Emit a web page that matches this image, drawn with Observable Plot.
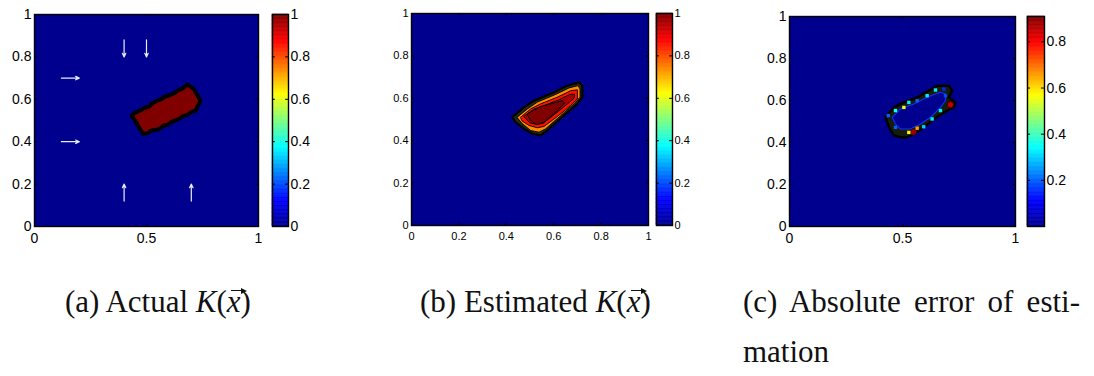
<!DOCTYPE html>
<html>
<head>
<meta charset="utf-8">
<script src="https://cdn.jsdelivr.net/npm/d3@7"></script>
<script src="https://cdn.jsdelivr.net/npm/@observablehq/plot@0.6"></script>
<style>
  html, body { margin: 0; padding: 0; background: #fff; }
  #root { position: relative; width: 1094px; height: 376px; overflow: hidden; background: #fff; }
  .pane { position: absolute; }
  .pane svg { overflow: visible; }
  .cap { position: absolute; font-family: "Liberation Serif", "DejaVu Serif", serif; font-size: 31px; line-height: 31px; color: #111; white-space: nowrap; }
  .cap i { font-style: italic; }
  .vec { position: relative; display: inline-block; font-style: italic; }
  .vec::before { content: ""; position: absolute; left: 4px; top: 4px; width: 12px; border-top: 1.4px solid #111; }
  .vec::after { content: ""; position: absolute; left: 14px; top: 1.6px; width: 0; height: 0;
    border-left: 6px solid #111; border-top: 3px solid transparent; border-bottom: 3px solid transparent; }
  .just { text-align: justify; text-align-last: justify; width: 337px; }
</style>
</head>
<body>
<div id="root"></div>
<script>
// ---------- data ----------
const yTicks = [0, 0.2, 0.4, 0.6, 0.8, 1];
const xTicksCoarse = [0, 0.5, 1];
const xTicksFine = [0, 0.2, 0.4, 0.6, 0.8, 1];
const cbTicksFull = [0, 0.2, 0.4, 0.6, 0.8, 1];
const cbTicksErr = [0.2, 0.4, 0.6, 0.8];
const errMax = 0.91;

// jet colormap stops
const jetStops = [0, 0.125, 0.375, 0.625, 0.875, 1];
const jetColors = ["#00008f", "#0000ff", "#00ffff", "#ffff00", "#ff0000", "#800000"];

// (a) actual K: region of value 1 (polygon vertices, data units)
const actualRegion = [
  [0.433,0.524],[0.455,0.540],[0.470,0.545],[0.488,0.558],[0.510,0.565],[0.525,0.580],
  [0.548,0.594],[0.565,0.600],[0.580,0.612],[0.600,0.618],[0.622,0.628],[0.640,0.642],
  [0.660,0.650],[0.682,0.670],[0.711,0.649],[0.741,0.594],[0.719,0.547],[0.700,0.540],
  [0.685,0.527],[0.665,0.522],[0.652,0.512],[0.630,0.500],[0.610,0.493],[0.595,0.480],
  [0.575,0.475],[0.560,0.462],[0.540,0.455],[0.520,0.452],[0.505,0.440],[0.485,0.437],
  [0.470,0.460],[0.458,0.484],[0.445,0.505]
];
const actualValue = 1;
// flow arrows (x1,y1,x2,y2)
const flowArrows = [
  {x1:0.12,y1:0.70,x2:0.20,y2:0.70},
  {x1:0.12,y1:0.40,x2:0.20,y2:0.40},
  {x1:0.40,y1:0.88,x2:0.40,y2:0.80},
  {x1:0.50,y1:0.88,x2:0.50,y2:0.80},
  {x1:0.40,y1:0.12,x2:0.40,y2:0.20},
  {x1:0.70,y1:0.12,x2:0.70,y2:0.20}
];

// (b) estimated K: nested contour levels
const estOuter = [
  [0.425,0.511],[0.475,0.558],[0.517,0.589],[0.601,0.629],[0.658,0.660],[0.707,0.676],
  [0.721,0.660],[0.721,0.605],[0.700,0.574],[0.644,0.519],[0.573,0.448],[0.545,0.425],
  [0.510,0.433],[0.475,0.456],[0.439,0.487]
];
const estLevel75 = [
  [0.446,0.511],[0.489,0.550],[0.531,0.582],[0.608,0.618],[0.665,0.649],[0.703,0.660],
  [0.711,0.644],[0.711,0.605],[0.686,0.574],[0.630,0.519],[0.566,0.456],[0.538,0.440],
  [0.503,0.448],[0.468,0.480]
];
const estLevel85 = [
  [0.461,0.511],[0.503,0.550],[0.545,0.574],[0.615,0.605],[0.672,0.636],[0.700,0.640],
  [0.700,0.597],[0.672,0.566],[0.615,0.514],[0.559,0.467],[0.531,0.461],[0.496,0.472],
  [0.468,0.492]
];
const estLevel95 = [
  [0.475,0.515],[0.515,0.548],[0.560,0.566],[0.620,0.592],[0.668,0.618],[0.688,0.620],
  [0.686,0.600],[0.660,0.575],[0.605,0.525],[0.555,0.482],[0.530,0.476],[0.500,0.484]
];
const estLevel100 = [
  [0.489,0.527],[0.545,0.561],[0.637,0.589],[0.646,0.577],[0.608,0.534],[0.559,0.487],
  [0.528,0.476],[0.503,0.495]
];

// (c) absolute error: ring region, inner hole, error spots
const errRing = [
  [0.425,0.520],[0.462,0.567],[0.506,0.591],[0.565,0.615],[0.653,0.670],[0.705,0.670],
  [0.720,0.647],[0.705,0.615],[0.735,0.591],[0.727,0.567],[0.698,0.552],[0.639,0.512],
  [0.594,0.472],[0.550,0.441],[0.521,0.425],[0.491,0.425],[0.462,0.433],[0.440,0.472]
];
const errHole = [
  [0.454,0.520],[0.491,0.559],[0.550,0.583],[0.609,0.615],[0.668,0.639],[0.690,0.631],
  [0.690,0.599],[0.668,0.567],[0.624,0.520],[0.580,0.488],[0.535,0.464],[0.491,0.464],
  [0.469,0.488]
];
const errSpots = [
  {x:0.469,y:0.552,v:0.35},{x:0.506,y:0.567,v:0.55},{x:0.528,y:0.591,v:0.33},
  {x:0.565,y:0.599,v:0.20},{x:0.609,y:0.623,v:0.33},{x:0.646,y:0.650,v:0.33},
  {x:0.683,y:0.654,v:0.15},{x:0.668,y:0.552,v:0.33},{x:0.631,y:0.512,v:0.33},
  {x:0.594,y:0.475,v:0.30},{x:0.565,y:0.468,v:0.65},{x:0.528,y:0.448,v:0.55},
  {x:0.437,y:0.528,v:0.20},{x:0.469,y:0.472,v:0.20},{x:0.690,y:0.623,v:0.18}
];
const errPatches = [
  {x:0.712,y:0.580,v:0.85},{x:0.548,y:0.450,v:0.88}
];

// ---------- drawing ----------
const root = document.getElementById("root");
const jet = Plot.scale({color: {type: "linear", domain: jetStops, range: jetColors, interpolate: "rgb"}});
const SANS = "'Liberation Sans', Arial, Helvetica, sans-serif";

function place(el, left, top) {
  const d = document.createElement("div");
  d.className = "pane";
  d.style.left = left + "px";
  d.style.top = top + "px";
  d.appendChild(el);
  root.appendChild(d);
}

function poly(pts, fill, stroke, sw) {
  return Plot.line(pts, {x: d => d[0], y: d => d[1], curve: "linear-closed",
    fill, stroke, strokeWidth: sw, strokeLinejoin: "round"});
}

function mainPanel({left, top, right, bottom, xTicks, fontSize, marks}) {
  const mL = 40, mR = 6, mT = top, mB = 30;
  const tk = 0.012;
  const chart = Plot.plot({
    width: (right - left) + mL + mR,
    height: bottom + mB,
    marginLeft: mL, marginRight: mR, marginTop: mT, marginBottom: mB,
    style: {fontFamily: SANS, fontSize: fontSize + "px", color: "#000", background: "transparent", overflow: "visible"},
    x: {domain: [0, 1], ticks: xTicks, tickSize: 0, tickPadding: 7, tickFormat: d => `${d}`, label: null},
    y: {domain: [0, 1], ticks: yTicks, tickSize: 0, tickPadding: 3, tickFormat: d => `${d}`, label: null},
    marks: [
      Plot.frame({fill: jetColors[0], stroke: "none"}),
      ...marks,
      Plot.ruleY(yTicks, {y: d => d, x1: 0, x2: tk, stroke: "#000"}),
      Plot.ruleY(yTicks, {y: d => d, x1: 1 - tk, x2: 1, stroke: "#000"}),
      Plot.ruleX(xTicks, {x: d => d, y1: 0, y2: tk, stroke: "#000"}),
      Plot.ruleX(xTicks, {x: d => d, y1: 1 - tk, y2: 1, stroke: "#000"}),
      Plot.frame({stroke: "#000", strokeWidth: 1.4})
    ]
  });
  place(chart, left - mL, 0);
}

function colorbar({left, top, right, bottom, max, ticks, fontSize}) {
  const n = 160;
  const bands = d3.range(n).map(i => ({a: i * max / n, b: (i + 1) * max / n, v: (i + 0.5) * max / n}));
  const chart = Plot.plot({
    width: (right - left) + 40,
    height: bottom + 12,
    marginLeft: 0, marginRight: 40, marginTop: top, marginBottom: 12,
    style: {fontFamily: SANS, fontSize: fontSize + "px", color: "#000", background: "transparent", overflow: "visible"},
    x: {domain: [0, 1], axis: null},
    y: {domain: [0, max], axis: "right", ticks, tickSize: 0, tickPadding: 2, tickFormat: d => `${d}`, label: null},
    color: {type: "linear", domain: jetStops.map(s => s * max), range: jetColors, interpolate: "rgb"},
    marks: [
      Plot.rect(bands, {x1: 0, x2: 1, y1: "a", y2: "b", fill: "v", stroke: "v", strokeWidth: 0.6}),
      Plot.ruleY(ticks, {y: d => d, x1: 0, x2: 0.18, stroke: "#000"}),
      Plot.ruleY(ticks, {y: d => d, x1: 0.82, x2: 1, stroke: "#000"}),
      Plot.frame({stroke: "#000", strokeWidth: 1.4})
    ]
  });
  place(chart, left, 0);
}

// Panel (a)
mainPanel({left: 34, top: 14, right: 258, bottom: 226, xTicks: xTicksCoarse, fontSize: 14, marks: [
  poly(actualRegion, jet.apply(actualValue), "#000", 4),
  Plot.arrow(flowArrows, {x1: "x1", y1: "y1", x2: "x2", y2: "y2", stroke: "#e8ecff", strokeWidth: 1.2, headLength: 5, headAngle: 50})
]});
colorbar({left: 272, top: 14, right: 288, bottom: 226, max: 1, ticks: cbTicksFull, fontSize: 14});

// Panel (b)
mainPanel({left: 411, top: 13, right: 648, bottom: 225, xTicks: xTicksFine, fontSize: 11, marks: [
  poly(estOuter, "#1e2c12", "#000", 2.2),
  poly(estLevel75, jet.apply(0.74), "#000", 0.9),
  poly(estLevel85, jet.apply(0.86), "#000", 0.9),
  poly(estLevel95, jet.apply(0.96), "#000", 1),
  poly(estLevel100, jet.apply(1), "#000", 1)
]});
colorbar({left: 656, top: 13, right: 672, bottom: 225, max: 1, ticks: cbTicksFull, fontSize: 11});

// Panel (c)
const jetErr = Plot.scale({color: {type: "linear", domain: jetStops.map(s => s * errMax), range: jetColors, interpolate: "rgb"}});
mainPanel({left: 789, top: 16, right: 1015, bottom: 226, xTicks: xTicksCoarse, fontSize: 14, marks: [
  poly(errRing, "#161c0c", "#000", 2.5),
  poly(errHole, jetColors[0], "#1030ff", 1.1),
  Plot.dot(errPatches, {x: "x", y: "y", r: 3.2, fill: d => jetErr.apply(d.v), stroke: "#220000", strokeWidth: 0.8}),
  Plot.dot(errSpots, {x: "x", y: "y", r: 1.9, symbol: "square", fill: d => jetErr.apply(d.v), stroke: "none"})
]});
colorbar({left: 1027, top: 16, right: 1044, bottom: 226, max: errMax, ticks: cbTicksErr, fontSize: 14});

// Captions
const vec = '<i>K</i>(<span class="vec">x</span>)';
const caps = [
  {left: 65, top: 286, html: '(a) Actual ' + vec, cls: "cap"},
  {left: 420, top: 286, html: '(b) Estimated ' + vec, cls: "cap"},
  {left: 743, top: 286, html: '(c) Absolute error of esti-', cls: "cap just"},
  {left: 743, top: 336, html: 'mation', cls: "cap"}
];
for (const c of caps) {
  const d = document.createElement("div");
  d.className = c.cls;
  d.style.left = c.left + "px";
  d.style.top = c.top + "px";
  d.innerHTML = c.html;
  root.appendChild(d);
}
</script>
</body>
</html>
